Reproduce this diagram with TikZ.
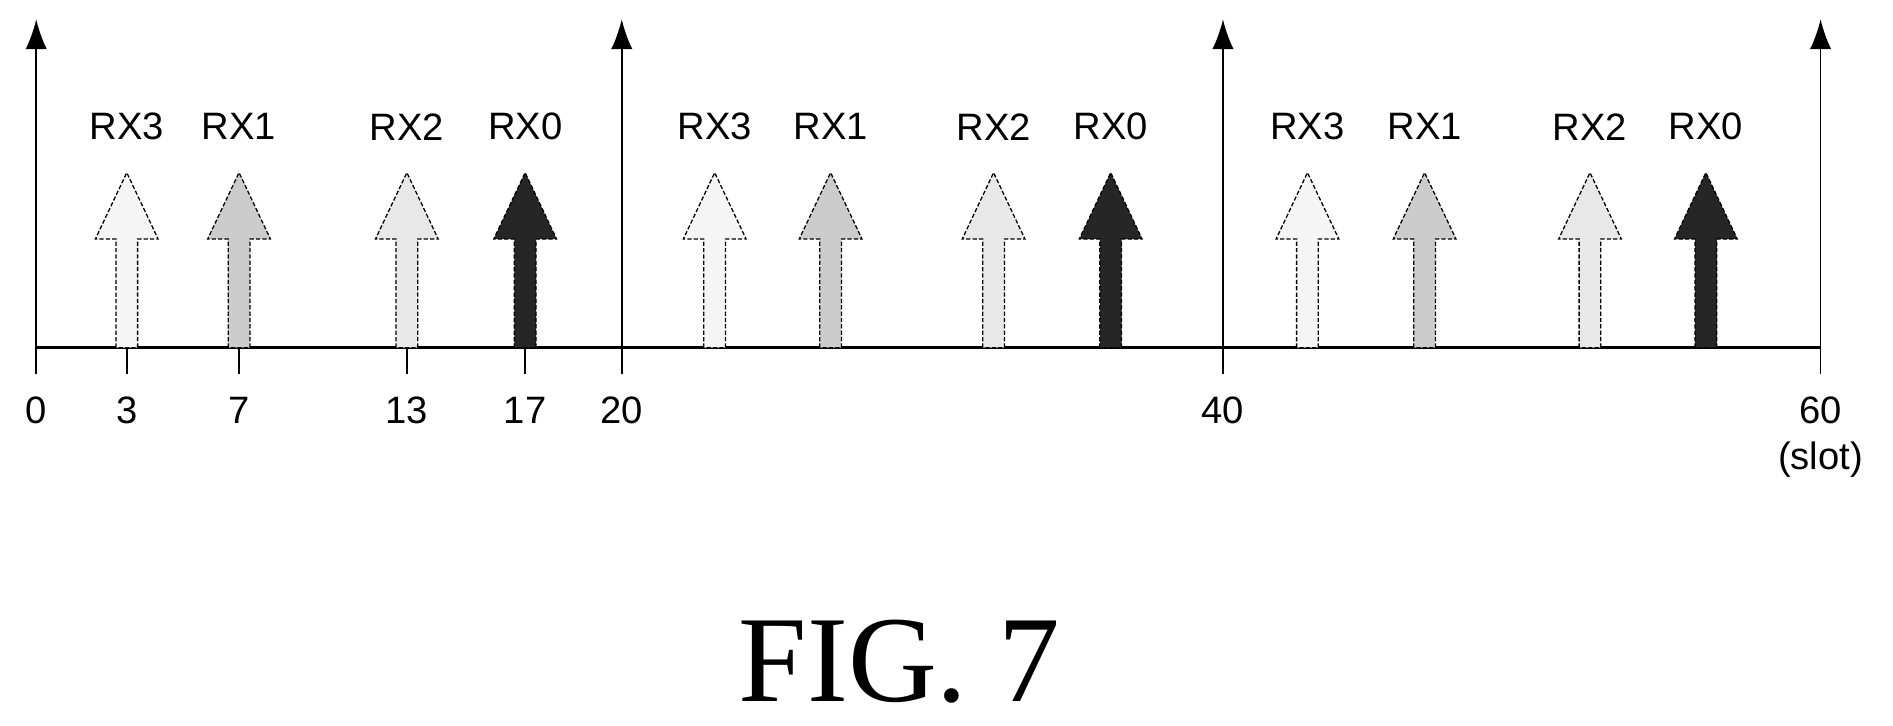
\documentclass[tikz,border=0pt]{standalone}
\usepackage{fontspec}
\setmainfont{Liberation Sans}
\newfontfamily\figfont{Liberation Serif}
\usetikzlibrary{positioning}
\usetikzlibrary{arrows.meta}
\tikzset{>=latex}
\tikzset{
  axisline/.style={line width=1.2pt},
  tlabel/.style={font=\fontsize{18}{18}\selectfont, inner sep=0pt},
  rxlabel/.style={font=\fontsize{18}{18}\selectfont, inner sep=0pt},
  rxarrow/.style={draw=black, line width=0.6pt, dash pattern=on 2pt off 1pt},
}
% slot arrow: x position, fill, name
\newcommand{\rxshape}[3]{%
  \coordinate (#3) at (#1,288);
  \filldraw[rxarrow, fill=#2] (#1-9,288) -- (#1-9,198) -- (#1-26,198) -- (#1,143)
     -- (#1+26,198) -- (#1+9,198) -- (#1+9,288) -- cycle;
}
\begin{document}
\begin{tikzpicture}[x=0.02cm, y=-0.02cm]
  \useasboundingbox (0,0) rectangle (1568,601);

  % time axis
  \coordinate (o) at (30,288);
  \coordinate (e) at (1508,288);
  \draw[axisline] (o) -- (e);

  % period borders
  \foreach \x/\t in {30/0, 515/20, 1013/40, 1508/60} {
    \coordinate (b\t) at (\x,288);
    \coordinate (bt\t) at (\x,16);
    \draw[-{Latex[length=14pt,width=10pt]}, line width=0.8pt] (\x,310) -- (bt\t);
    \node[tlabel] (l\t) at (\x,340) {\t};
  }
  \node[tlabel, below=8pt of l60] (slot) {(slot)};

  % arrows, three periods
  \foreach \x/\c/\n in {105/gray!8/RX3, 198/gray!40/RX1, 337/gray!18/RX2, 435/black!85/RX0,
                        592/gray!8/RX3, 688/gray!40/RX1, 823/gray!18/RX2, 920/black!85/RX0,
                        1083/gray!8/RX3, 1180/gray!40/RX1, 1317/gray!18/RX2, 1413/black!85/RX0} {
    \rxshape{\x}{\c}{a\x}
    \node[rxlabel] (n\x) at (\x,105) {\n};
  }

  % ticks of the first period
  \foreach \x/\t in {105/3, 198/7, 337/13, 435/17} {
    \draw[line width=0.8pt] (a\x) -- ++(0,22);
    \node[tlabel] (l\t) at (\x,340) {\t};
  }

  \node[font=\figfont\fontsize{58}{58}\selectfont, inner sep=0pt] (fig) at (745,548) {FIG. 7};
\end{tikzpicture}
\end{document}
